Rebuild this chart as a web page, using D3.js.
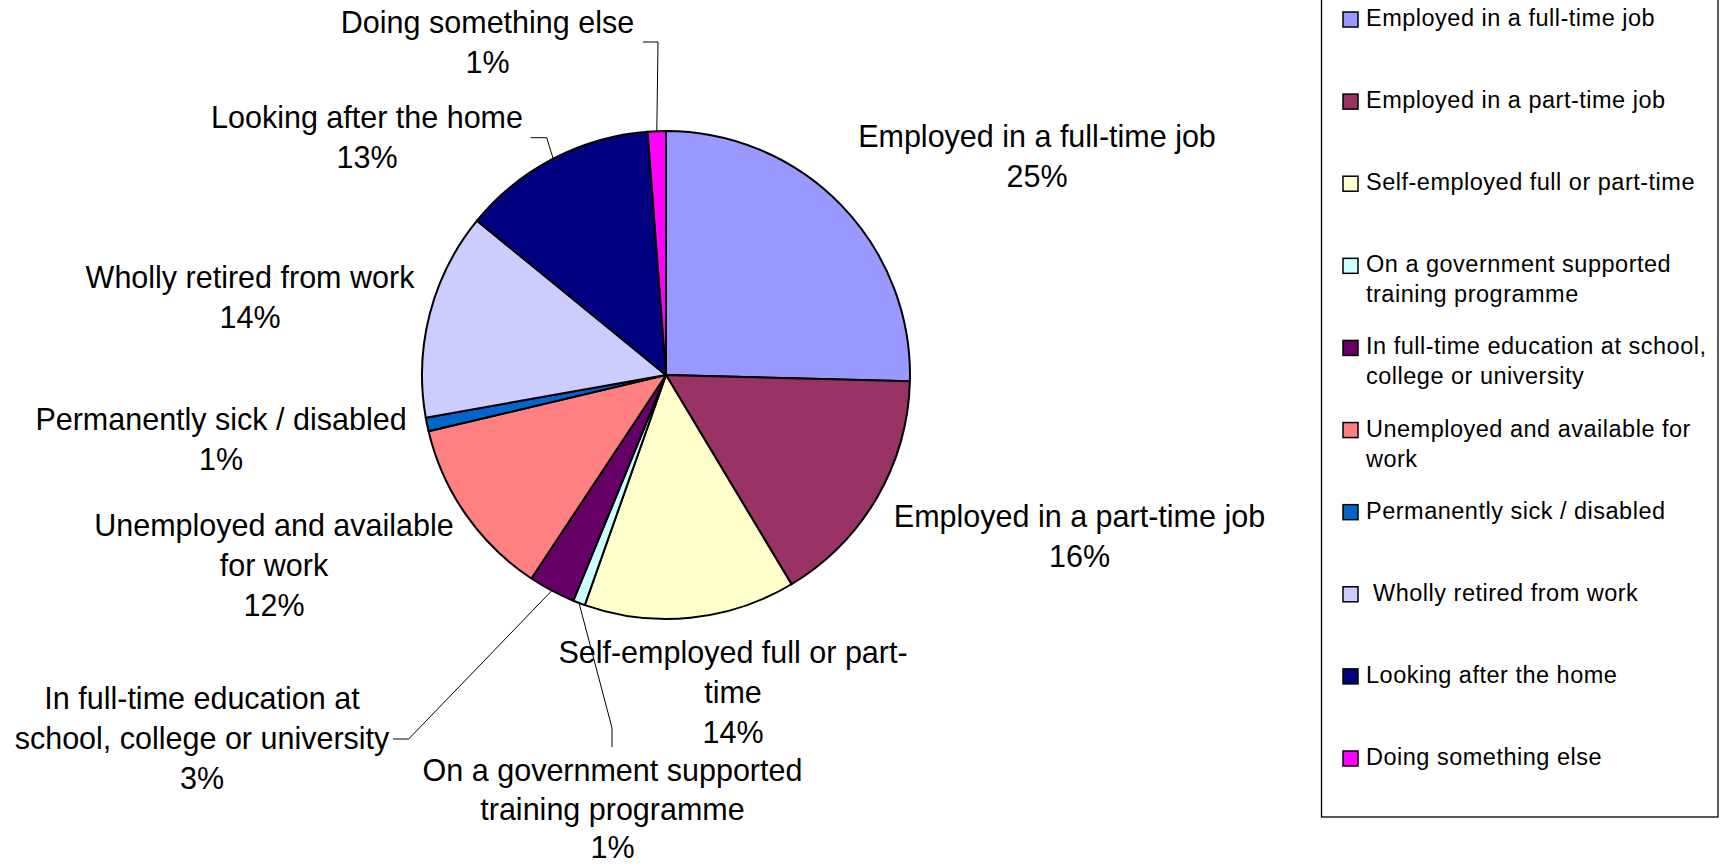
<!DOCTYPE html>
<html>
<head>
<meta charset="utf-8">
<script src="https://cdn.jsdelivr.net/npm/d3@7/dist/d3.min.js"></script>
<style>
  html, body { margin: 0; padding: 0; background: #fff; }
  svg { display: block; font-family: "Liberation Sans", Arial, sans-serif; }
  .legend-text { white-space: pre; }
</style>
</head>
<body>
<svg id="chart" width="1725" height="866"></svg>
<script>
// Economic activity categories, in pie order (clockwise from 12 o'clock)
const categories = [
  "Employed in a full-time job",
  "Employed in a part-time job",
  "Self-employed full or part-time",
  "On a government supported training programme",
  "In full-time education at school, college or university",
  "Unemployed and available for work",
  "Permanently sick / disabled",
  " Wholly retired from work",
  "Looking after the home",
  "Doing something else"
];

// Share of respondents, percent
const shares = [25.4, 16.0, 14.0, 0.8, 3.1, 12.0, 0.9, 13.7, 12.9, 1.2];

const colors = [
  "#9999FF", "#993366", "#FFFFCC", "#CCFFFF", "#660066",
  "#FF8080", "#0066CC", "#CCCCFF", "#000080", "#FF00FF"
];

// Line breaks used for the data labels around the pie
const pieLabelLines = [
  ["Employed in a full-time job"],
  ["Employed in a part-time job"],
  ["Self-employed full or part-", "time"],
  ["On a government supported", "training programme"],
  ["In full-time education at", "school, college or university"],
  ["Unemployed and available", "for work"],
  ["Permanently sick / disabled"],
  ["Wholly retired from work"],
  ["Looking after the home"],
  ["Doing something else"]
];

// Line breaks used in the legend
const legendLines = [
  ["Employed in a full-time job"],
  ["Employed in a part-time job"],
  ["Self-employed full or part-time"],
  ["On a government supported", "training programme"],
  ["In full-time education at school,", "college or university"],
  ["Unemployed and available for", "work"],
  ["Permanently sick / disabled"],
  [" Wholly retired from work"],
  ["Looking after the home"],
  ["Doing something else"]
];

// ---- layout ----
const cx = 666, cy = 375, radius = 244;
const labelFont = 30.5, labelLineH = 40;

// label anchor (centre of first baseline) relative to pie centre
const labelOffsets = [
  [371, -228.5], [413.5, 151.7], [67, 288.3], [-53.5, 406], [-464, 333.5],
  [-392, 160.7], [-445, 55], [-416, -86.7], [-299, -246.7], [-178.5, -341.7]
];
// leader lines for thin slices: elbow and end points relative to pie centre
const leaders = {
  3: [[-54, 353], [-54, 372]],
  4: [[-257.3, 364], [-273, 364]],
  8: [[-119.3, -237.3], [-135.3, -237.3]],
  9: [[-8, -333], [-23, -333]]
};

const svg = d3.select("#chart");
const data = categories.map((c, i) => ({ name: c, value: shares[i], i }));

const pie = d3.pie().value(d => d.value).sort(null);
const arcs = pie(data);
const arc = d3.arc().innerRadius(0).outerRadius(radius);
const fmt = v => d3.format(".0f")(v) + "%";

const g = svg.append("g").attr("transform", `translate(${cx},${cy})`);

g.selectAll("path.slice")
  .data(arcs)
  .join("path")
  .attr("class", "slice")
  .attr("d", arc)
  .attr("fill", d => colors[d.data.i])
  .attr("stroke", "#000")
  .attr("stroke-width", 2)
  .attr("stroke-linejoin", "round");

// leader lines
arcs.forEach(a => {
  const pts = leaders[a.data.i];
  if (!pts) return;
  const mid = (a.startAngle + a.endAngle) / 2;
  const start = [Math.sin(mid) * radius, -Math.cos(mid) * radius];
  g.append("path")
    .attr("d", d3.line()([start, ...pts]))
    .attr("fill", "none")
    .attr("stroke", "#000")
    .attr("stroke-width", 1);
});

// data labels
arcs.forEach(a => {
  const i = a.data.i;
  const [dx, dy] = labelOffsets[i];
  const lines = [...pieLabelLines[i], fmt(a.data.value)];
  const t = g.append("text")
    .attr("x", dx).attr("y", dy)
    .attr("text-anchor", "middle")
    .attr("font-size", labelFont)
    .attr("fill", "#000");
  lines.forEach((ln, k) => {
    t.append("tspan").attr("x", dx).attr("y", dy + k * (i === 3 ? labelLineH - 1.5 : labelLineH)).text(ln);
  });
});

// ---- legend ----
const lg = svg.append("g");
lg.append("rect")
  .attr("x", 1321.5).attr("y", -3)
  .attr("width", 396.5).attr("height", 820)
  .attr("fill", "#fff")
  .attr("stroke", "#000")
  .attr("stroke-width", 1.3);

const legendY = d3.scaleLinear().domain([0, categories.length - 1]).range([26, 765]);

const items = lg.selectAll("g.item")
  .data(data)
  .join("g")
  .attr("class", "item")
  .attr("transform", d => `translate(0,${legendY(d.i)})`);

items.append("rect")
  .attr("x", 1343).attr("y", -14)
  .attr("width", 15).attr("height", 15)
  .attr("fill", d => colors[d.i])
  .attr("stroke", "#000")
  .attr("stroke-width", 1.5);

items.append("text")
  .attr("class", "legend-text")
  .attr("font-size", 23.5)
  .attr("letter-spacing", 0.5)
  .attr("fill", "#000")
  .each(function(d) {
    const t = d3.select(this);
    legendLines[d.i].forEach((ln, k) => {
      t.append("tspan").attr("x", 1366).attr("y", k * 30).text(ln);
    });
  });
</script>
</body>
</html>
